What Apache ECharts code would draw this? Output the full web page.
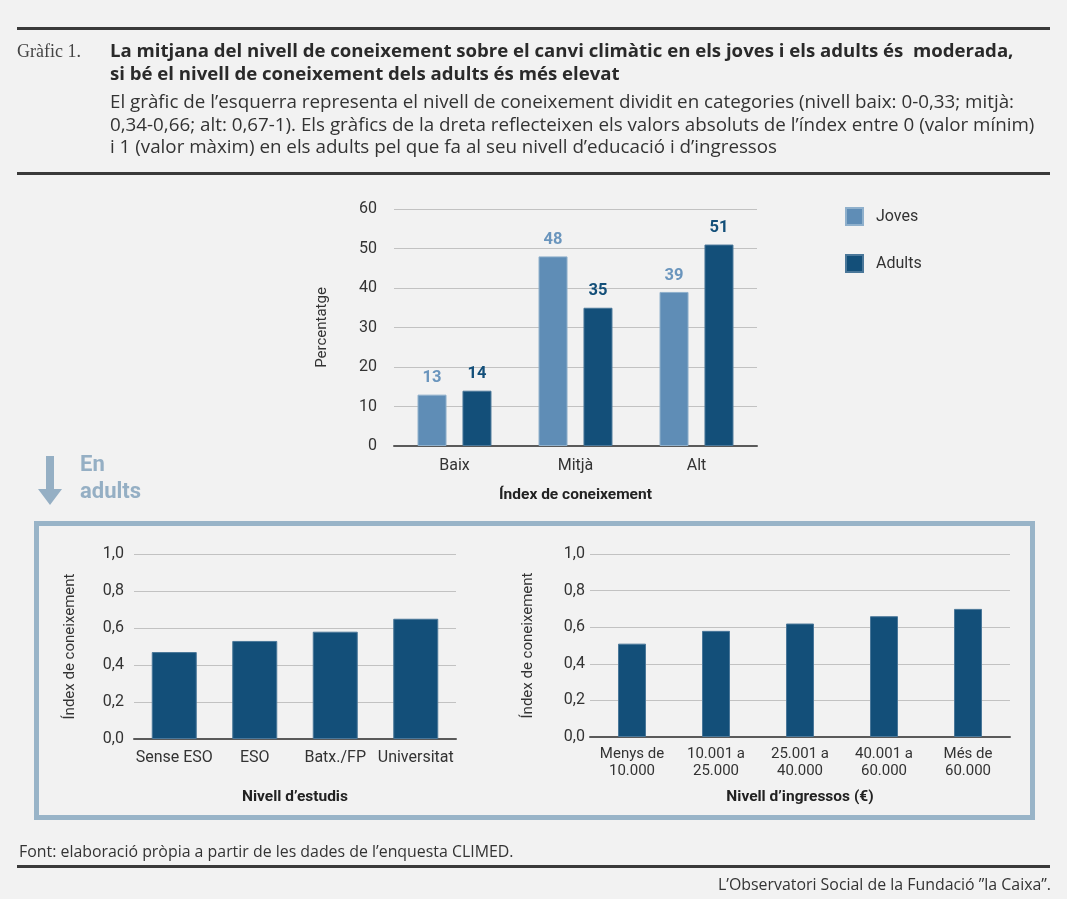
<!DOCTYPE html>
<html><head><meta charset="utf-8">
<script src="https://cdn.jsdelivr.net/npm/echarts@6/dist/echarts.min.js"></script>
<style>html,body{margin:0;padding:0;background:#f2f2f2;}#c{width:1067px;height:899px;}</style>
</head><body><div id="c"></div>
<script>
const topCategories = ['Baix', 'Mitjà', 'Alt'];
const jovesValues = [13, 48, 39];
const adultsValues = [14, 35, 51];
const topTicks = [0, 10, 20, 30, 40, 50, 60];

const estudisCategories = ['Sense ESO', 'ESO', 'Batx./FP', 'Universitat'];
const estudisValues = [0.47, 0.53, 0.58, 0.65];

const ingressosCategories = ['Menys de\n10.000', '10.001 a\n25.000', '25.001 a\n40.000', '40.001 a\n60.000', 'Més de\n60.000'];
const ingressosValues = [0.51, 0.58, 0.62, 0.66, 0.70];

const titleLines = [
  'La mitjana del nivell de coneixement sobre el canvi climàtic en els joves i els adults és  moderada,',
  'si bé el nivell de coneixement dels adults és més elevat'
];
const subtitleLines = [
  'El gràfic de l’esquerra representa el nivell de coneixement dividit en categories (nivell baix: 0-0,33; mitjà:',
  '0,34-0,66; alt: 0,67-1). Els gràfics de la dreta reflecteixen els valors absoluts de l’índex entre 0 (valor mínim)',
  'i 1 (valor màxim) en els adults pel que fa al seu nivell d’educació i d’ingressos'
];
const sourceText = 'Font: elaboració pròpia a partir de les dades de l’enquesta CLIMED.';
const creditText = 'L’Observatori Social de la Fundació ”la Caixa”.';

const FONT = 'Roboto, "Noto Sans", sans-serif';
const HFONT = '"Open Sans", Roboto, sans-serif';
const LIGHT = '#5f8db6';
const DARK = '#134f79';
const TXT = '#333333';
const GRID = '#c2c2c2';
const AXIS = '#5a5a5a';
const ACCENT = '#95afc4';

const ctx = document.createElement('canvas').getContext('2d');
function fitSize(text, weight, family, target) {
  ctx.font = weight + ' 100px ' + family;
  return Math.round(100 * target / ctx.measureText(text).width * 10) / 10;
}
const titleSize = fitSize(titleLines[0], 'bold', HFONT, 902);
const subSize = fitSize(subtitleLines[0], 'normal', HFONT, 903);
const srcSize = fitSize(sourceText, 'normal', HFONT, 494);

const chart = echarts.init(document.getElementById('c'), null, {renderer: 'canvas'});

function yAxisCommon(name, gap, min, max, interval, fmt, margin) {
  return {
    type: 'value', min: min, max: max, interval: interval,
    name: name, nameLocation: 'middle', nameGap: gap,
    nameTextStyle: {fontFamily: FONT, fontSize: 15, color: TXT},
    axisLine: {show: false}, axisTick: {show: false},
    axisLabel: {fontFamily: FONT, fontSize: 16, color: TXT, margin: margin, formatter: fmt},
    splitLine: {lineStyle: {color: GRID, width: 1}}
  };
}
function xAxisCommon(data, name, gap, fontSize, margin, lh) {
  return {
    type: 'category', data: data,
    name: name, nameLocation: 'middle', nameGap: gap,
    nameTextStyle: {fontFamily: FONT, fontSize: 15.5, fontWeight: 'bold', color: '#222'},
    axisLine: {lineStyle: {color: AXIS, width: 2}},
    axisTick: {show: false},
    axisLabel: {fontFamily: FONT, fontSize: fontSize, color: TXT, margin: margin, lineHeight: lh, interval: 0}
  };
}
const commaFmt = v => v.toFixed(1).replace('.', ',');

function txt(x, y, text, font, fill, align) {
  return {type: 'text', x: x, y: y, style: {text: text, font: font, fill: fill, textAlign: align || 'left', textVerticalAlign: 'middle'}};
}

const option = {
  backgroundColor: '#f2f2f2',
  animation: false,
  textStyle: {fontFamily: FONT},
  legend: {
    orient: 'vertical', left: 845, top: 207, padding: 0,
    itemWidth: 17, itemHeight: 17, itemGap: 28, icon: 'rect',
    textStyle: {fontFamily: FONT, fontSize: 16, color: TXT, padding: [0, 0, 0, 8]},
    data: ['Joves', 'Adults']
  },
  grid: [
    {left: 394, width: 363, top: 209, height: 237},
    {left: 134, width: 322, top: 554, height: 185},
    {left: 590, width: 420, top: 554, height: 183}
  ],
  xAxis: [
    Object.assign(xAxisCommon(topCategories, 'Índex de coneixement', 41, 16, 11, 18), {gridIndex: 0}),
    Object.assign(xAxisCommon(estudisCategories, 'Nivell d’estudis', 50, 16, 10, 18), {gridIndex: 1}),
    Object.assign(xAxisCommon(ingressosCategories, 'Nivell d’ingressos (€)', 52, 15, 9, 17), {gridIndex: 2})
  ],
  yAxis: [
    Object.assign(yAxisCommon('Percentatge', 64, topTicks[0], topTicks[topTicks.length - 1], 10, v => v, 17), {gridIndex: 0}),
    Object.assign(yAxisCommon('Índex de coneixement', 56, 0, 1, 0.2, commaFmt, 10), {gridIndex: 1}),
    Object.assign(yAxisCommon('Índex de coneixement', 54, 0, 1, 0.2, commaFmt, 5), {gridIndex: 2})
  ],
  series: [
    {
      name: 'Joves', type: 'bar', xAxisIndex: 0, yAxisIndex: 0, data: jovesValues,
      barWidth: 29, barGap: '55%',
      itemStyle: {color: LIGHT, borderColor: '#8fb0cc', borderWidth: 1},
      label: {show: true, position: 'top', distance: 8, fontFamily: FONT, fontSize: 16.5, fontWeight: 'bold', color: '#6a95bd'}
    },
    {
      name: 'Adults', type: 'bar', xAxisIndex: 0, yAxisIndex: 0, data: adultsValues,
      barWidth: 29, barGap: '55%',
      itemStyle: {color: DARK, borderColor: '#4a7799', borderWidth: 1},
      label: {show: true, position: 'top', distance: 8, fontFamily: FONT, fontSize: 16.5, fontWeight: 'bold', color: DARK}
    },
    {
      name: 'Estudis', type: 'bar', xAxisIndex: 1, yAxisIndex: 1, data: estudisValues,
      barWidth: 45, itemStyle: {color: DARK, borderColor: '#4a7799', borderWidth: 1}
    },
    {
      name: 'Ingressos', type: 'bar', xAxisIndex: 2, yAxisIndex: 2, data: ingressosValues,
      barWidth: 28, itemStyle: {color: DARK, borderColor: '#4a7799', borderWidth: 1}
    }
  ],
  graphic: [
    {type: 'rect', shape: {x: 17, y: 27, width: 1033, height: 3}, style: {fill: '#3a3a3a'}},
    {type: 'rect', shape: {x: 17, y: 172, width: 1033, height: 3}, style: {fill: '#3a3a3a'}},
    txt(17, 52, 'Gràfic 1.', '18px "Liberation Serif", "DejaVu Serif", serif', '#444'),
    txt(110, 52, titleLines[0], 'bold ' + titleSize + 'px ' + HFONT, '#2a2a2a'),
    txt(110, 75, titleLines[1], 'bold ' + titleSize + 'px ' + HFONT, '#2a2a2a'),
    txt(110, 103, subtitleLines[0], subSize + 'px ' + HFONT, TXT),
    txt(110, 126, subtitleLines[1], subSize + 'px ' + HFONT, TXT),
    txt(110, 148, subtitleLines[2], subSize + 'px ' + HFONT, TXT),
    {type: 'polygon', shape: {points: [[46, 456], [54, 456], [54, 489], [62, 489], [50, 505], [38, 489], [46, 489]]}, style: {fill: ACCENT}},
    txt(80, 465, 'En', 'bold 22px ' + FONT, ACCENT),
    txt(80, 492, 'adults', 'bold 22px ' + FONT, ACCENT),
    {type: 'rect', shape: {x: 36.5, y: 523.5, width: 996, height: 294}, style: {fill: 'none', stroke: '#99b4c8', lineWidth: 5}},
    txt(19, 852, sourceText, srcSize + 'px ' + HFONT, TXT),
    {type: 'rect', shape: {x: 17, y: 865, width: 1033, height: 3}, style: {fill: '#3a3a3a'}},
    txt(1051, 885, creditText, srcSize + 'px ' + HFONT, TXT, 'right')
  ]
};
chart.setOption(option);
</script>
</body></html>
